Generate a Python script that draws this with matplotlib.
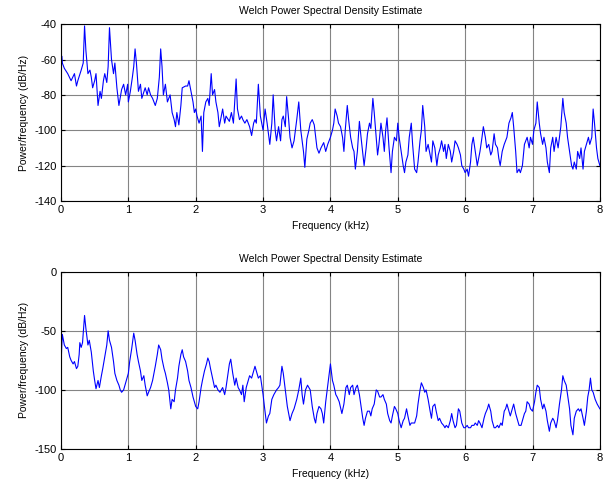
import matplotlib

matplotlib.use("Agg")

import matplotlib.pyplot as plt

plt.rcParams["font.family"] = ["Liberation Sans", "DejaVu Sans"]
plt.rcParams["axes.unicode_minus"] = False

# values (kHz, dB/Hz)
top_freq = [
    0.0, 0.01, 0.02, 0.05, 0.1, 0.15, 0.2, 0.23, 0.25, 0.3, 0.33, 0.35, 0.37, 0.4, 0.43, 0.45, 0.47, 0.5,
    0.52, 0.55, 0.58, 0.6, 0.63, 0.65, 0.68, 0.7, 0.72, 0.75, 0.78, 0.8, 0.83, 0.86, 0.9, 0.93, 0.96, 0.99,
    1.0, 1.03, 1.06, 1.08, 1.1, 1.12, 1.15, 1.18, 1.2, 1.25, 1.28, 1.3, 1.33, 1.36, 1.4, 1.43, 1.46, 1.48,
    1.5, 1.52, 1.55, 1.58, 1.62, 1.65, 1.68, 1.7, 1.72, 1.75, 1.78, 1.8, 1.85, 1.88, 1.9, 1.93, 1.96, 1.98,
    2.0, 2.02, 2.05, 2.08, 2.1, 2.12, 2.15, 2.18, 2.2, 2.23, 2.25, 2.28, 2.3, 2.33, 2.35, 2.38, 2.4, 2.43,
    2.45, 2.5, 2.53, 2.56, 2.6, 2.62, 2.65, 2.68, 2.7, 2.73, 2.76, 2.8, 2.83, 2.86, 2.88, 2.9, 2.93, 2.96,
    3.0, 3.03, 3.06, 3.1, 3.13, 3.15, 3.18, 3.2, 3.23, 3.26, 3.28, 3.3, 3.33, 3.35, 3.38, 3.4, 3.43, 3.46,
    3.48, 3.5, 3.53, 3.56, 3.58, 3.6, 3.62, 3.65, 3.68, 3.7, 3.73, 3.76, 3.8, 3.83, 3.86, 3.9, 3.93, 3.96,
    4.0, 4.03, 4.05, 4.07, 4.1, 4.12, 4.15, 4.18, 4.2, 4.22, 4.25, 4.27, 4.3, 4.33, 4.35, 4.37, 4.4, 4.43,
    4.46, 4.5, 4.53, 4.55, 4.58, 4.6, 4.63, 4.65, 4.68, 4.7, 4.72, 4.75, 4.78, 4.8, 4.82, 4.84, 4.87, 4.9,
    4.92, 4.95, 4.98, 5.0, 5.02, 5.05, 5.08, 5.1, 5.12, 5.15, 5.17, 5.2, 5.22, 5.25, 5.28, 5.3, 5.33, 5.35,
    5.37, 5.4, 5.42, 5.45, 5.48, 5.5, 5.52, 5.55, 5.58, 5.6, 5.63, 5.65, 5.68, 5.7, 5.72, 5.75, 5.78, 5.8,
    5.83, 5.85, 5.88, 5.9, 5.93, 5.95, 5.98, 6.0, 6.03, 6.05, 6.08, 6.1, 6.12, 6.15, 6.18, 6.2, 6.22, 6.25,
    6.27, 6.3, 6.32, 6.35, 6.38, 6.4, 6.43, 6.45, 6.48, 6.5, 6.52, 6.55, 6.58, 6.6, 6.62, 6.65, 6.68, 6.7,
    6.72, 6.75, 6.77, 6.8, 6.82, 6.85, 6.88, 6.9, 6.92, 6.95, 6.97, 7.0, 7.02, 7.05, 7.07, 7.1, 7.12, 7.15,
    7.17, 7.2, 7.22, 7.25, 7.27, 7.3, 7.32, 7.35, 7.38, 7.4, 7.42, 7.45, 7.47, 7.5, 7.52, 7.55, 7.58, 7.6,
    7.62, 7.65, 7.67, 7.7, 7.72, 7.75, 7.77, 7.8, 7.83, 7.85, 7.88, 7.9, 7.92, 7.95, 7.97, 8.0,
]
top_psd = [
    -75, -58, -62, -65, -68, -72, -68, -75, -72, -66, -62, -41, -55, -68, -66, -70, -76, -72,
    -68, -86, -78, -82, -72, -68, -73, -64, -42, -60, -68, -62, -76, -86, -77, -74, -80, -74,
    -84, -78, -70, -64, -54, -62, -78, -74, -82, -76, -80, -76, -80, -82, -86, -82, -70, -54,
    -64, -80, -74, -84, -80, -90, -94, -98, -90, -97, -86, -76, -75, -75, -72, -78, -84, -90,
    -88, -92, -96, -92, -112, -90, -84, -82, -86, -68, -80, -77, -84, -90, -98, -92, -88, -96,
    -92, -95, -90, -96, -71, -88, -94, -92, -94, -96, -94, -98, -103, -96, -94, -96, -74, -92,
    -100, -88, -96, -108, -96, -80, -100, -106, -98, -106, -94, -92, -98, -81, -94, -104, -110, -106,
    -100, -94, -84, -100, -106, -112, -121, -105, -100, -96, -94, -97, -110, -113, -110, -107, -112, -108,
    -104, -100, -96, -88, -92, -96, -98, -104, -112, -100, -86, -94, -104, -110, -112, -122, -112, -95,
    -106, -120, -110, -102, -96, -99, -82, -90, -104, -114, -108, -96, -104, -112, -100, -93, -110, -124,
    -112, -104, -106, -96, -104, -112, -120, -124, -118, -114, -104, -96, -108, -122, -124, -118, -106, -100,
    -86, -98, -112, -108, -114, -118, -106, -110, -120, -114, -110, -106, -112, -108, -116, -108, -112, -118,
    -112, -106, -108, -110, -114, -120, -122, -124, -122, -126, -118, -108, -104, -112, -120, -116, -112, -104,
    -98, -104, -110, -108, -114, -112, -102, -108, -110, -116, -120, -112, -108, -106, -104, -96, -93, -90,
    -98, -112, -124, -122, -124, -120, -108, -106, -104, -110, -104, -108, -100, -96, -84, -96, -102, -108,
    -104, -110, -118, -124, -110, -104, -112, -104, -110, -104, -98, -82, -90, -96, -104, -112, -120, -122,
    -118, -122, -112, -116, -110, -122, -112, -108, -104, -108, -104, -88, -96, -110, -116, -120,
]

bot_freq = [
    0.0, 0.01, 0.02, 0.05, 0.08, 0.1, 0.13, 0.15, 0.18, 0.2, 0.23, 0.25, 0.27, 0.28, 0.3, 0.32, 0.35, 0.37,
    0.4, 0.42, 0.45, 0.48, 0.5, 0.52, 0.55, 0.57, 0.6, 0.62, 0.65, 0.68, 0.7, 0.72, 0.75, 0.78, 0.8, 0.83,
    0.86, 0.88, 0.9, 0.93, 0.96, 1.0, 1.02, 1.05, 1.08, 1.1, 1.13, 1.15, 1.18, 1.2, 1.23, 1.25, 1.28, 1.3,
    1.33, 1.36, 1.4, 1.43, 1.45, 1.48, 1.5, 1.53, 1.55, 1.58, 1.6, 1.63, 1.65, 1.68, 1.7, 1.73, 1.75, 1.78,
    1.8, 1.82, 1.85, 1.88, 1.9, 1.93, 1.96, 2.0, 2.03, 2.05, 2.08, 2.1, 2.13, 2.16, 2.18, 2.2, 2.22, 2.25,
    2.28, 2.3, 2.33, 2.36, 2.4, 2.43, 2.45, 2.48, 2.5, 2.52, 2.55, 2.58, 2.6, 2.63, 2.65, 2.68, 2.7, 2.72,
    2.75, 2.78, 2.8, 2.83, 2.85, 2.88, 2.9, 2.93, 2.96, 3.0, 3.02, 3.05, 3.08, 3.1, 3.13, 3.16, 3.2, 3.23,
    3.25, 3.28, 3.3, 3.33, 3.36, 3.4, 3.43, 3.46, 3.5, 3.53, 3.56, 3.58, 3.6, 3.63, 3.66, 3.7, 3.73, 3.76,
    3.78, 3.8, 3.83, 3.86, 3.88, 3.9, 3.93, 3.96, 3.98, 4.0, 4.03, 4.05, 4.08, 4.1, 4.13, 4.17, 4.2, 4.23,
    4.25, 4.28, 4.3, 4.33, 4.35, 4.38, 4.4, 4.43, 4.45, 4.48, 4.5, 4.52, 4.55, 4.58, 4.6, 4.62, 4.65, 4.68,
    4.7, 4.73, 4.75, 4.78, 4.8, 4.83, 4.85, 4.88, 4.9, 4.92, 4.95, 4.97, 5.0, 5.02, 5.05, 5.08, 5.1, 5.13,
    5.15, 5.18, 5.2, 5.25, 5.28, 5.3, 5.33, 5.35, 5.38, 5.4, 5.42, 5.45, 5.48, 5.5, 5.52, 5.55, 5.57, 5.6,
    5.62, 5.65, 5.68, 5.7, 5.72, 5.75, 5.78, 5.8, 5.82, 5.85, 5.87, 5.9, 5.92, 5.95, 5.98, 6.0, 6.03, 6.05,
    6.08, 6.1, 6.13, 6.15, 6.18, 6.2, 6.22, 6.25, 6.28, 6.3, 6.33, 6.35, 6.38, 6.4, 6.43, 6.45, 6.48, 6.5,
    6.53, 6.55, 6.58, 6.6, 6.62, 6.65, 6.67, 6.7, 6.72, 6.75, 6.78, 6.8, 6.83, 6.85, 6.88, 6.9, 6.92, 6.95,
    6.97, 7.0, 7.03, 7.05, 7.07, 7.1, 7.12, 7.15, 7.17, 7.2, 7.22, 7.25, 7.27, 7.3, 7.32, 7.35, 7.37, 7.4,
    7.43, 7.45, 7.47, 7.5, 7.52, 7.55, 7.57, 7.6, 7.62, 7.65, 7.68, 7.7, 7.72, 7.75, 7.77, 7.8, 7.82, 7.84,
    7.86, 7.88, 7.9, 7.93, 7.96, 8.0,
]
bot_psd = [
    -82, -65, -53, -62, -65, -64, -72, -75, -78, -76, -82, -80, -70, -60, -64, -60, -37, -48,
    -62, -58, -68, -84, -92, -99, -92, -98, -88, -82, -72, -62, -50, -58, -64, -76, -86, -92,
    -96, -100, -102, -100, -94, -86, -76, -65, -52, -58, -70, -76, -84, -92, -88, -96, -105, -102,
    -98, -92, -80, -70, -62, -66, -74, -82, -86, -94, -100, -116, -108, -110, -100, -90, -80, -70,
    -66, -72, -76, -84, -92, -98, -106, -114, -116, -110, -98, -92, -84, -78, -73, -76, -82, -90,
    -98, -96, -100, -102, -98, -104, -98, -86, -78, -74, -86, -96, -90, -98, -100, -104, -96, -110,
    -98, -92, -88, -90, -86, -80, -84, -90, -88, -104, -114, -128, -122, -120, -108, -104, -100, -98,
    -96, -80, -86, -100, -114, -126, -120, -116, -108, -100, -90, -104, -112, -100, -96, -100, -114, -124,
    -128, -120, -114, -116, -120, -128, -110, -96, -86, -78, -92, -96, -104, -106, -110, -120, -112, -98,
    -96, -104, -98, -96, -104, -98, -96, -104, -112, -124, -130, -124, -118, -118, -122, -116, -112, -100,
    -101, -106, -106, -104, -108, -112, -120, -126, -128, -122, -114, -116, -120, -126, -132, -126, -124, -116,
    -122, -130, -128, -128, -122, -112, -100, -94, -98, -102, -100, -108, -118, -124, -114, -112, -118, -126,
    -124, -128, -130, -132, -130, -132, -126, -120, -126, -132, -130, -116, -118, -128, -132, -132, -130, -132,
    -132, -130, -130, -128, -130, -126, -128, -132, -124, -120, -116, -112, -118, -126, -132, -132, -130, -132,
    -128, -130, -118, -116, -112, -118, -122, -116, -112, -120, -126, -130, -130, -126, -120, -118, -110, -112,
    -116, -118, -110, -102, -96, -98, -108, -116, -112, -118, -126, -135, -128, -124, -126, -132, -126, -112,
    -100, -88, -92, -96, -104, -116, -130, -138, -124, -118, -116, -118, -116, -124, -130, -118, -106, -100,
    -90, -100, -102, -108, -112, -116,
]

panels = [
    (top_freq, top_psd, (-140, -40), range(-140, -39, 20)),
    (bot_freq, bot_psd, (-150, 0), range(-150, 1, 50)),
]

fig = plt.figure(figsize=(6.11, 4.83), dpi=100)
boxes = [[0.0998, 0.584, 0.882, 0.366], [0.0998, 0.0704, 0.882, 0.367]]

for box, (freq, psd, ylim, yticks) in zip(boxes, panels):
    ax = fig.add_axes(box)
    ax.plot(freq, psd, color="#0000ff", linewidth=0.8)
    ax.set_xlim(0, 8)
    ax.set_ylim(*ylim)
    ax.set_xticks(range(0, 9))
    ax.set_yticks(list(yticks))
    ax.grid(True, color="#848484", linewidth=0.8)
    ax.tick_params(direction="in", top=True, right=True, length=3, labelsize=8, pad=3)
    for spine in ax.spines.values():
        spine.set_linewidth(0.8)
    ax.set_title("Welch Power Spectral Density Estimate", fontsize=7.5, pad=7)
    ax.set_xlabel("Frequency (kHz)", fontsize=7.5, labelpad=4)
    ax.set_ylabel("Power/frequency (dB/Hz)", fontsize=7.5, labelpad=4)

fig.savefig("out.png", dpi=100)
